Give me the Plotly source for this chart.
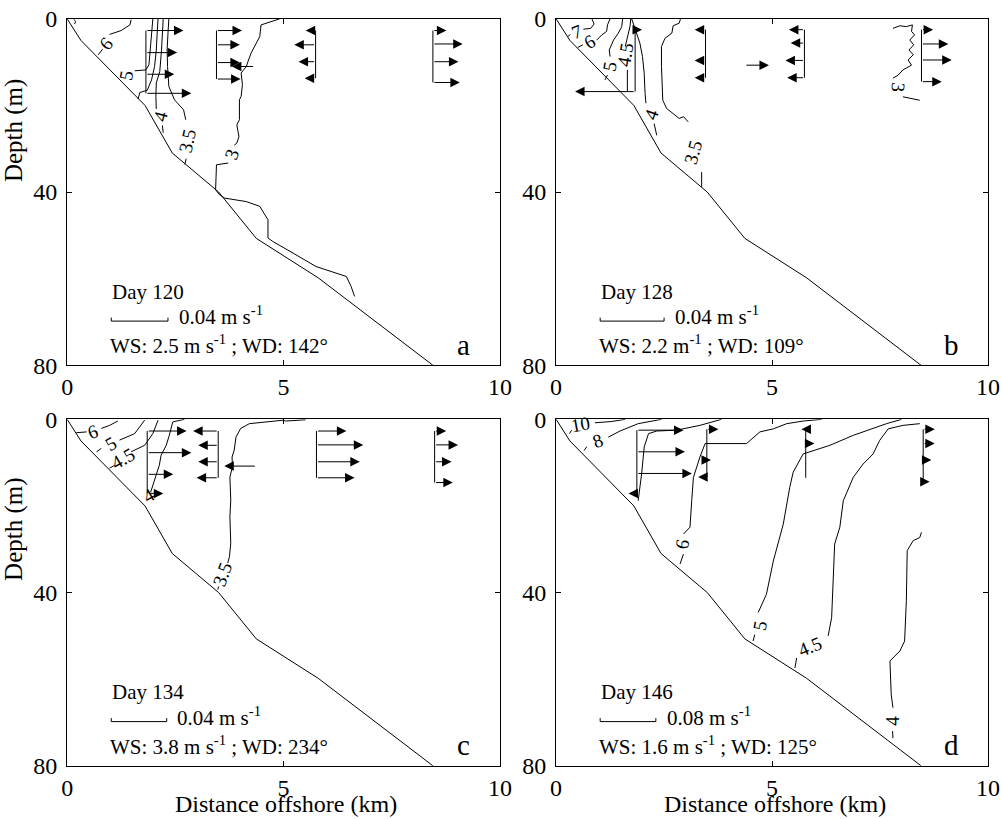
import plotly.graph_objects as go

FONT = "Liberation Serif"

# ---------------- data ----------------
BATH_X = [0, 0.32, 1.8, 2.43, 3.5, 4.37, 5.8, 8.45]
BATH_Y = [0, 5, 20, 31, 40, 50.7, 59.8, 80]

DAYS = [120, 128, 134, 146]
PANEL_LETTERS = ["a", "b", "c", "d"]
SCALE_MS = [0.04, 0.04, 0.04, 0.08]          # reference vector (m/s)
SCALE_KM = [1.31, 1.48, 1.28, 1.29]          # its drawn length (km)
WIND_TEXT = [
    "WS: 2.5 m s<sup>-1</sup> ; WD: 142°",
    "WS: 2.2 m<sup>-1</sup> ; WD: 109°",
    "WS: 3.8 m s<sup>-1</sup> ; WD: 234°",
    "WS: 1.6 m s<sup>-1</sup> ; WD: 125°",
]

# stations: offshore distance (km), depths (m), cross-shore velocity (m/s)
A_ST_X = [1.82, 3.45, 4.33, 5.74, 8.45]
A_ST_Z = [[2.7, 7.8, 12.8, 17.2], [2.7, 6.0, 10.1, 13.9], [11.0], [2.7, 6.0, 9.9, 13.7], [2.7, 5.8, 9.9, 14.7]]
A_ST_U = [[0.0265, 0.022, 0.020, 0.032], [0.018, 0.0165, 0.0165, 0.017], [-0.016],
          [-0.007, -0.015, -0.012, -0.0077], [0.0095, 0.021, 0.018, 0.019]]

B_ST_X = [1.83, 3.46, 4.37, 5.75, 8.46]
B_ST_Z = [[2.5, 7.0, 12.6, 16.8], [2.5, 5.8, 9.6, 13.6], [10.7], [2.5, 5.6, 9.6, 13.6], [2.5, 5.8, 9.5, 14.5]]
B_ST_U = [[0.0043, 0.0, 0.0016, -0.0376], [-0.0068, -0.0014, -0.0068, -0.0068], [0.0151],
          [-0.0097, -0.0086, -0.0119, -0.0108], [0.0073, 0.0168, 0.0189, 0.0127]]

C_ST_X = [1.85, 3.49, 4.37, 5.76, 8.49]
C_ST_Z = [[2.7, 7.7, 12.7, 17.1], [2.7, 6.0, 9.8, 13.5], [10.8], [2.7, 5.9, 9.8, 13.5], [2.7, 5.9, 9.8, 14.6]]
C_ST_U = [[0.0284, 0.0319, 0.0188, 0.0116], [-0.0181, -0.0144, -0.0144, -0.0156], [-0.0231],
          [0.0216, 0.0338, 0.0313, 0.0275], [0.0084, 0.0169, 0.0122, 0.0131]]

D_ST_X = [1.87, 3.49, 5.78, 8.50]
D_ST_Z = [[2.5, 7.5, 12.5, 17.1], [2.3, 9.4, 13.3], [2.3, 5.6, 9.5, 13.5], [2.3, 5.6, 9.4, 14.4]]
D_ST_U = [[0.067, 0.069, 0.079, -0.012], [0.0167, 0.006, -0.0124], [-0.0062, 0.0124, 0.0, 0.0],
          [0.0167, 0.0167, 0.0118, 0.0093]]

# isotherms (x km, depth m); None = gap for label
A_CONTOURS = [
    ([0.15, 0.2, 0.17], [0.1, 0.6, 1.2]),
    ([0.72, 0.82, None, 0.98, 1.25, 1.45, 1.48], [8.3, 7.0, None, 3.6, 2.7, 1.4, 0.2]),
    ([1.56, 1.82, 1.89, 1.92, 1.95, 1.98], [12, 11.8, 10.6, 7.2, 3.3, 0]),
    ([1.64, 1.68, 1.85, 1.95, 2.02, 2.06, 2.08, 2.1], [18.5, 17, 16.5, 14.1, 11, 7.2, 3.3, 0]),
    ([2.06, 2.05, 2.06, 2.14, 2.18, 2.2, 2.22, None, 2.2, 2.22], [20.8, 17.9, 14.8, 12.2, 7.2, 3.3, 0, None, 24.6, 26.3]),
    ([2.74, 2.69, 2.48, 2.35, 2.32, 2.31, 2.33, 2.35, None, 2.75, 2.72],
     [23.3, 21, 18.7, 15.6, 11, 7.2, 3.3, 0, None, 32.3, 33.6]),
    ([4.91, 4.48, 4.45, 4.25, 4.18, 4.14, 4.02, 4.05, 4.02, 3.98, 3.98, 3.92, 3.97, 3.92, 3.86, None,
      3.72, 3.45, 3.43, 3.52, 3.64, 4.14, 4.45, 4.64, 4.64, 4.75, 5.22, 5.75, 6.45, 6.56, 6.64],
     [0, 1.4, 4.1, 7.9, 9.8, 11, 12.5, 15.2, 17.9, 18.7, 23.3, 24.5, 27.2, 28.7, 29.2, None,
      33.3, 33.7, 39.5, 40.6, 41.4, 42.2, 43.3, 46.4, 50.6, 51.4, 54.1, 57.2, 59.5, 61.8, 64.1]),
]
A_LABELS = [("6", 0.9, 5.6, -50), ("5", 1.37, 12.9, -80), ("4", 2.16, 22.6, -75),
            ("3.5", 2.79, 28.2, -78), ("3", 3.8, 31.3, -70)]

B_CONTOURS = [
    ([0.27, 0.33, None, 0.63, 0.8, 0.88, 0.83], [4.1, 3.6, None, 2.4, 2.2, 1.2, 0]),
    ([0.5, 0.62, None, 0.94, 1.06, 1.17, 1.19, 1.25], [6.6, 6.0, None, 4.9, 3.7, 2.9, 1.4, 0]),
    ([1.13, 1.19, None, 1.25, 1.23, 1.33, 1.44, 1.52, 1.54], [14.1, 13.0, None, 8.7, 7.2, 4.9, 3.3, 1.8, 0]),
    ([1.65, 1.65, None, 1.6, 1.65, 1.71, 1.73], [16.8, 11.8, None, 6.4, 4.1, 1.8, 0]),
    ([1.75, 1.83, 1.94, 2.0, 2.04, 2.06, 2.08, None, 2.27, 2.33], [0, 2.5, 5.6, 8.7, 12.6, 17.2, 19.5, None, 24.2, 26.9]),
    ([2.88, 2.85, 2.71, 2.68, 2.52, 2.44, 2.44, 2.47, 2.56, 2.75, 2.85, 2.95, 3.06, None, 3.37, 3.37],
     [0, 1, 1.6, 3.3, 4.5, 6.4, 11, 18.8, 20.7, 22.2, 23, 22.6, 23.8, None, 35.4, 38.8]),
    ([7.8, 7.96, 8.11, 8.25, 8.23, 8.3, 8.19, 8.28, 8.17, 8.27, 8.15, 8.23, 8.03, 7.92, 7.8, None, 8.03, 8.23, 8.42],
     [2.2, 1.6, 1.8, 1.4, 2.9, 3.7, 4.9, 6, 7.2, 8.3, 9.5, 10.7, 11.8, 13, 13.7, None, 18, 18.4, 18.8]),
]
B_LABELS = [("7", 0.49, 3.0, -20), ("6", 0.79, 5.3, -30), ("5", 1.24, 11.0, -80), ("4.5", 1.6, 8.2, -80),
            ("4", 2.2, 22, -70), ("3.5", 3.18, 30.7, -75), ("3", 7.92, 15.9, 95)]

C_CONTOURS = [
    ([0.21, 0.45, None, 0.79, 0.98, 1.17], [3.1, 2.9, None, 2.1, 1.4, 0.4]),
    ([0.68, 0.79, None, 1.21, 1.56, 1.79], [7.5, 6.7, None, 4.8, 3.3, 0.2]),
    ([0.98, 1.1, None, 1.48, 1.79, 1.98, 2.1], [11.3, 10.6, None, 7.5, 6.0, 3.3, 0.2]),
    ([1.93, 2.02, 2.13, 2.17, 2.29, 2.36, 2.44, 2.71], [16.8, 14, 10.6, 8.3, 6, 3.7, 0.6, 0]),
    ([5.51, 5.05, 4.99, 4.21, 4.01, 3.9, 3.86, 3.81, 3.82, 3.76, 3.78, 3.76, 3.78, 3.75, 3.71, None, 3.5, 3.48],
     [0.1, 0.4, 0.2, 1, 2.1, 4.1, 7.1, 8.7, 11, 13.3, 18.6, 22.5, 28.6, 31.7, 33.2, None, 38.6, 39.3]),
]
C_LABELS = [("6", 0.6, 2.9, -20), ("5", 1.02, 5.6, -30), ("4.5", 1.29, 9.0, -30),
            ("4", 1.88, 17.6, -30), ("3.5", 3.59, 35.9, -70)]

D_CONTOURS = [
    ([0.31, 0.36, None, 0.9, 1.29, 1.6], [3.3, 2.5, None, 0.8, 0.5, 0]),
    ([0.65, 0.71, None, 1.21, 1.48, 1.9, 2.44], [7.2, 6.3, None, 4.1, 2.7, 1.0, 0]),
    ([1.9, 1.98, 2.04, 2.14, 2.33, 2.79, 3.33, 3.83], [18.8, 12.6, 6.4, 3.3, 2.7, 2.5, 1.4, 0]),
    ([2.87, 2.95, None, 2.95, 3.1, 3.14, 3.18, 3.33, 3.45, 4.41, 4.72, 5.03, 5.34, 5.72, 6.15],
     [33.4, 31.1, None, 26.5, 24.9, 18.8, 13.4, 8.7, 5.6, 5.6, 2.9, 2.2, 1.0, 0.4, 0]),
    ([4.56, 4.6, None, 4.68, 4.87, 5.03, 5.26, 5.41, 5.49, 5.72, 6.34, 6.88, 7.65, 8.0],
     [51.2, 49.7, None, 44.6, 40.4, 32.7, 24.2, 15.7, 12.2, 8.0, 6.0, 3.7, 1.0, 0]),
    ([5.53, 5.57, None, 6.3, 6.38, 6.45, 6.57, 6.65, 6.88, 7.11, 7.34, 7.49, 7.69, 8.03, 8.42],
     [57.4, 55.1, None, 50, 45.8, 28.8, 24.9, 18.8, 13.4, 10.3, 8.0, 4.9, 2.2, 1.4, 1.0]),
    ([7.8, 7.79, None, 7.8, 7.76, 7.73, 7.8, 7.96, 8.07, 8.11, 8.13, 8.27, 8.42, 8.46],
     [73.6, 72, None, 66.6, 63.6, 55.8, 55.1, 53.5, 51.2, 41.9, 30.3, 28, 27.3, 26.1]),
]
D_LABELS = [("10", 0.56, 1.3, -10), ("8", 0.98, 4.9, -20), ("6", 2.91, 28.8, -80),
            ("5", 4.72, 47.6, -80), ("4.5", 5.88, 52.4, -22), ("4", 7.8, 69.6, -90)]

X_TICKS = [0, 5, 10]
Y_TICKS = [0, 40, 80]

# ---------------- figure ----------------
PANELS = [
    (A_ST_X, A_ST_Z, A_ST_U, A_CONTOURS, A_LABELS),
    (B_ST_X, B_ST_Z, B_ST_U, B_CONTOURS, B_LABELS),
    (C_ST_X, C_ST_Z, C_ST_U, C_CONTOURS, C_LABELS),
    (D_ST_X, D_ST_Z, D_ST_U, D_CONTOURS, D_LABELS),
]
X_DOMAINS = [[0.067, 0.499], [0.555, 0.986], [0.067, 0.499], [0.555, 0.986]]
Y_DOMAINS = [[0.554, 0.977], [0.554, 0.977], [0.065, 0.488], [0.065, 0.488]]
LINE = dict(color="black", width=1)

fig = go.Figure()
annotations = []

for i, (st_x, st_z, st_u, contours, labels) in enumerate(PANELS):
    sfx = "" if i == 0 else str(i + 1)
    xa, ya = "x" + sfx, "y" + sfx
    km_per_ms = SCALE_KM[i] / SCALE_MS[i]

    fig.add_trace(go.Scatter(x=BATH_X, y=BATH_Y, mode="lines", line=LINE,
                             xaxis=xa, yaxis=ya, showlegend=False, hoverinfo="skip"))
    for cx, cy in contours:
        fig.add_trace(go.Scatter(x=cx, y=cy, mode="lines", line=LINE, connectgaps=False,
                                 xaxis=xa, yaxis=ya, showlegend=False, hoverinfo="skip"))
    for txt, lx, ly, ang in labels:
        annotations.append(dict(x=lx, y=ly, xref=xa, yref=ya, text=txt, showarrow=False,
                                textangle=ang, font=dict(family=FONT, size=19, color="black")))

    for sx, zs, us in zip(st_x, st_z, st_u):
        if len(zs) > 1:
            fig.add_trace(go.Scatter(x=[sx, sx], y=[min(zs), max(zs)], mode="lines", line=LINE,
                                     xaxis=xa, yaxis=ya, showlegend=False, hoverinfo="skip"))
        for z, u in zip(zs, us):
            if u == 0:
                continue
            annotations.append(dict(x=sx + u * km_per_ms, y=z, ax=sx, ay=z,
                                    xref=xa, yref=ya, axref=xa, ayref=ya, text="",
                                    showarrow=True, arrowhead=2, arrowsize=1.9, arrowwidth=1,
                                    arrowcolor="black", standoff=0, startstandoff=0))

    # reference vector bar and texts
    bx0 = 1.02
    bx1 = bx0 + SCALE_MS[i] * km_per_ms
    fig.add_trace(go.Scatter(x=[bx0, bx0, bx1, bx1], y=[69.0, 69.8, 69.8, 69.0], mode="lines",
                             line=LINE, xaxis=xa, yaxis=ya, showlegend=False, hoverinfo="skip"))
    tf = dict(family=FONT, size=21, color="black")
    annotations.append(dict(x=bx0 - 0.03, y=63.0, xref=xa, yref=ya, text=f"Day {DAYS[i]}",
                            showarrow=False, xanchor="left", yanchor="middle", font=tf))
    annotations.append(dict(x=bx1 + 0.2, y=68.6, xref=xa, yref=ya,
                            text=f"{SCALE_MS[i]:.2f} m s<sup>-1</sup>",
                            showarrow=False, xanchor="left", yanchor="middle", font=tf))
    annotations.append(dict(x=0.94, y=75.3, xref=xa, yref=ya, text=WIND_TEXT[i],
                            showarrow=False, xanchor="left", yanchor="middle", font=tf))
    annotations.append(dict(x=9.16, y=75.3, xref=xa, yref=ya, text=PANEL_LETTERS[i],
                            showarrow=False, xanchor="center", yanchor="middle",
                            font=dict(family=FONT, size=29, color="black")))

    axis_common = dict(showline=True, linecolor="black", linewidth=1, mirror="ticks",
                       ticks="inside", ticklen=5, tickcolor="black", showgrid=False,
                       zeroline=False, automargin=False,
                       tickfont=dict(family=FONT, size=24, color="black"))
    fig.update_layout(**{
        "xaxis" + sfx: dict(domain=X_DOMAINS[i], range=[0, 10], tickvals=X_TICKS,
                            anchor=ya, ticklabelstandoff=0, **axis_common),
        "yaxis" + sfx: dict(domain=Y_DOMAINS[i], range=[80, 0], tickvals=Y_TICKS,
                            anchor=xa, ticklabelstandoff=4, **axis_common),
    })

title_font = dict(family=FONT, size=24, color="black")
for yc in [0.84, 0.353]:
    annotations.append(dict(x=0.014, y=yc, xref="paper", yref="paper", text="Depth (m)",
                            showarrow=False, textangle=-90, font=dict(family=FONT, size=25, color="black"),
                            xanchor="center", yanchor="middle"))
for xc in [0.285, 0.773]:
    annotations.append(dict(x=xc, y=0.018, xref="paper", yref="paper",
                            text="Distance offshore (km)", showarrow=False, font=title_font,
                            xanchor="center", yanchor="middle"))

fig.update_layout(width=1002, height=819, margin=dict(l=0, r=0, t=0, b=0),
                  paper_bgcolor="white", plot_bgcolor="white", template="none",
                  annotations=annotations, showlegend=False)

fig.write_html("out.html", config={"displayModeBar": False},
               post_script="document.body.style.margin='0';document.body.style.overflow='hidden';")
